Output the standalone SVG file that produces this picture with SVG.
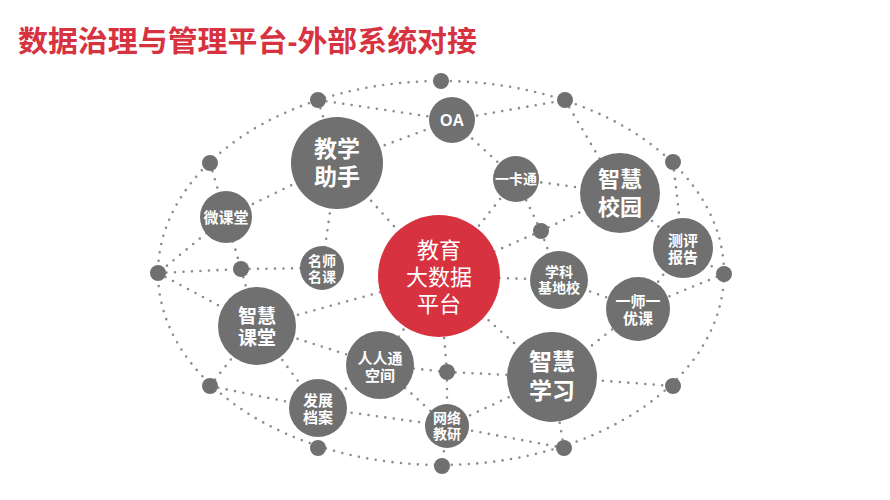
<svg xmlns="http://www.w3.org/2000/svg" width="890" height="500" viewBox="0 0 890 500">
<style>
.c{fill:none;stroke:#8c8c8c;stroke-width:2.6;stroke-linecap:round;stroke-dasharray:0 8.5}
.g{fill:#707070}
.r{fill:#d7323f}
.t,.tc{fill:#fff;font-family:"Liberation Sans","Noto Sans CJK SC",sans-serif;font-weight:bold;text-anchor:middle;dominant-baseline:central}
.tc{font-weight:normal;font-size:22px}
.t tspan,.tc tspan{dominant-baseline:central}
.title{fill:#d7323f;font-family:"Liberation Sans","Noto Sans CJK SC",sans-serif;font-weight:bold;font-size:29px}
</style>
<rect width="890" height="500" fill="#fff"/>
<text class="title" x="18" y="51.5" textLength="459" lengthAdjust="spacingAndGlyphs">数据治理与管理平台-外部系统对接</text>
<g id="connectors">
<ellipse class="c" cx="441" cy="273" rx="283" ry="192"/>
<line class="c" x1="318" y1="100" x2="452" y2="120"/>
<line class="c" x1="318" y1="100" x2="337" y2="163"/>
<line class="c" x1="337" y1="163" x2="452" y2="120"/>
<line class="c" x1="337" y1="163" x2="226" y2="217"/>
<line class="c" x1="337" y1="163" x2="322" y2="268"/>
<line class="c" x1="337" y1="163" x2="439" y2="276"/>
<line class="c" x1="210" y1="163" x2="226" y2="217"/>
<line class="c" x1="226" y1="217" x2="158" y2="273"/>
<line class="c" x1="226" y1="217" x2="241" y2="269"/>
<line class="c" x1="158" y1="273" x2="241" y2="269"/>
<line class="c" x1="158" y1="273" x2="257" y2="326"/>
<line class="c" x1="241" y1="269" x2="322" y2="268"/>
<line class="c" x1="241" y1="269" x2="257" y2="326"/>
<line class="c" x1="257" y1="326" x2="439" y2="276"/>
<line class="c" x1="257" y1="326" x2="380" y2="365"/>
<line class="c" x1="257" y1="326" x2="210" y2="386"/>
<line class="c" x1="257" y1="326" x2="318" y2="408"/>
<line class="c" x1="210" y1="386" x2="318" y2="408"/>
<line class="c" x1="318" y1="408" x2="380" y2="365"/>
<line class="c" x1="318" y1="408" x2="447" y2="426"/>
<line class="c" x1="318" y1="408" x2="318" y2="448"/>
<line class="c" x1="380" y1="365" x2="447" y2="372"/>
<line class="c" x1="380" y1="365" x2="447" y2="426"/>
<line class="c" x1="380" y1="365" x2="439" y2="276"/>
<line class="c" x1="447" y1="372" x2="439" y2="276"/>
<line class="c" x1="447" y1="372" x2="552" y2="377"/>
<line class="c" x1="447" y1="372" x2="447" y2="426"/>
<line class="c" x1="447" y1="426" x2="552" y2="377"/>
<line class="c" x1="447" y1="426" x2="564" y2="448"/>
<line class="c" x1="447" y1="426" x2="442" y2="466"/>
<line class="c" x1="564" y1="448" x2="552" y2="377"/>
<line class="c" x1="552" y1="377" x2="439" y2="276"/>
<line class="c" x1="552" y1="377" x2="638" y2="309"/>
<line class="c" x1="552" y1="377" x2="673" y2="386"/>
<line class="c" x1="638" y1="309" x2="559" y2="280"/>
<line class="c" x1="638" y1="309" x2="724" y2="274"/>
<line class="c" x1="638" y1="309" x2="683" y2="248"/>
<line class="c" x1="559" y1="280" x2="439" y2="276"/>
<line class="c" x1="559" y1="280" x2="541" y2="231"/>
<line class="c" x1="541" y1="231" x2="516" y2="179"/>
<line class="c" x1="541" y1="231" x2="620" y2="193"/>
<line class="c" x1="541" y1="231" x2="439" y2="276"/>
<line class="c" x1="516" y1="179" x2="452" y2="120"/>
<line class="c" x1="516" y1="179" x2="620" y2="193"/>
<line class="c" x1="516" y1="179" x2="439" y2="276"/>
<line class="c" x1="452" y1="120" x2="565" y2="100"/>
<line class="c" x1="565" y1="100" x2="620" y2="193"/>
<line class="c" x1="673" y1="162" x2="683" y2="248"/>
<line class="c" x1="683" y1="248" x2="724" y2="274"/>
<line class="c" x1="620" y1="193" x2="683" y2="248"/>
</g>
<g id="dots" class="g">
<circle id="d-top" cx="441" cy="81" r="8"/>
<circle id="d-tl" cx="318" cy="100" r="8"/>
<circle id="d-tr" cx="565" cy="100" r="8"/>
<circle id="d-l1" cx="210" cy="163" r="8"/>
<circle id="d-r1" cx="673" cy="162" r="8"/>
<circle id="d-l" cx="158" cy="273" r="8"/>
<circle id="d-r" cx="724" cy="274" r="8"/>
<circle id="d-l2" cx="210" cy="386" r="8"/>
<circle id="d-r2" cx="673" cy="386" r="8"/>
<circle id="d-bl" cx="318" cy="448" r="8"/>
<circle id="d-br" cx="564" cy="448" r="8"/>
<circle id="d-bot" cx="442" cy="466" r="8"/>
<circle id="d-1" cx="241" cy="269" r="8"/>
<circle id="d-2" cx="541" cy="231" r="8"/>
<circle id="d-3" cx="447" cy="372" r="8"/>
</g>
<g id="center"><circle class="r" cx="439" cy="276" r="61"/>
<text class="tc"><tspan x="439" y="250">教育</tspan><tspan x="439" y="277">大数据</tspan><tspan x="439" y="303.5">平台</tspan></text></g>
<g id="jxzs"><circle class="g" cx="337" cy="163" r="46"/>
<text class="t" font-size="23"><tspan x="337" y="149">教学</tspan><tspan x="337" y="177">助手</tspan></text></g>
<g id="oa"><circle class="g" cx="452" cy="120" r="23"/>
<text class="t" x="452" y="120" font-size="16">OA</text></g>
<g id="ykt"><circle class="g" cx="516" cy="179" r="23"/>
<text class="t" x="516" y="179" font-size="14">一卡通</text></g>
<g id="zhxy"><circle class="g" cx="620" cy="193" r="40"/>
<text class="t" font-size="22"><tspan x="620" y="179">智慧</tspan><tspan x="620" y="207">校园</tspan></text></g>
<g id="cpbg"><circle class="g" cx="683" cy="248" r="30"/>
<text class="t" font-size="15"><tspan x="683" y="239.5">测评</tspan><tspan x="683" y="257">报告</tspan></text></g>
<g id="xkjdx"><circle class="g" cx="559" cy="280" r="29"/>
<text class="t" font-size="14"><tspan x="559" y="272">学科</tspan><tspan x="559" y="288">基地校</tspan></text></g>
<g id="ysyyk"><circle class="g" cx="638" cy="309" r="32"/>
<text class="t" font-size="15"><tspan x="638" y="300.5">一师一</tspan><tspan x="638" y="318">优课</tspan></text></g>
<g id="zhxx"><circle class="g" cx="552" cy="377" r="45"/>
<text class="t" font-size="23"><tspan x="552" y="362">智慧</tspan><tspan x="552" y="391">学习</tspan></text></g>
<g id="wljy"><circle class="g" cx="447" cy="426" r="22"/>
<text class="t" font-size="14"><tspan x="447" y="418">网络</tspan><tspan x="447" y="434">教研</tspan></text></g>
<g id="rrt"><circle class="g" cx="380" cy="365" r="34"/>
<text class="t" font-size="15"><tspan x="380" y="357.5">人人通</tspan><tspan x="380" y="375">空间</tspan></text></g>
<g id="fzda"><circle class="g" cx="318" cy="408" r="29"/>
<text class="t" font-size="15"><tspan x="318" y="399.5">发展</tspan><tspan x="318" y="417">档案</tspan></text></g>
<g id="zhkt"><circle class="g" cx="257" cy="326" r="39"/>
<text class="t" font-size="19"><tspan x="257" y="315.5">智慧</tspan><tspan x="257" y="338">课堂</tspan></text></g>
<g id="wkt"><circle class="g" cx="226" cy="217" r="26"/>
<text class="t" x="226" y="217" font-size="15">微课堂</text></g>
<g id="msmk"><circle class="g" cx="322" cy="268" r="22"/>
<text class="t" font-size="14"><tspan x="322" y="260.5">名师</tspan><tspan x="322" y="276.5">名课</tspan></text></g>
</svg>
